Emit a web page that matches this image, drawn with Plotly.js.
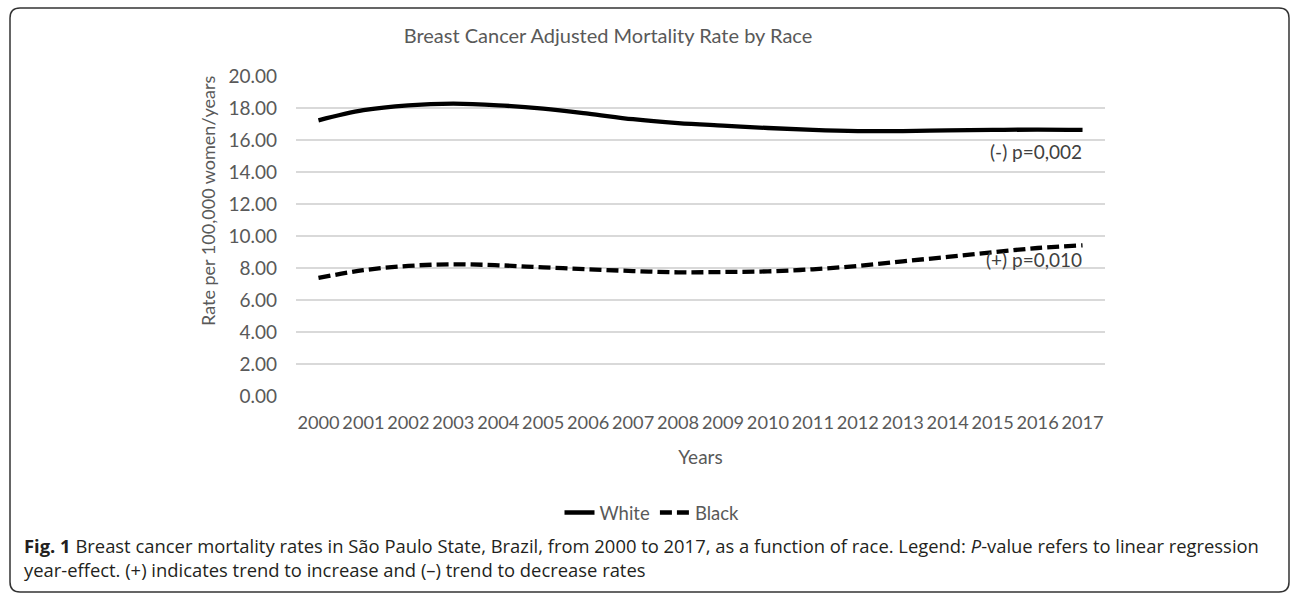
<!DOCTYPE html>
<html>
<head>
<meta charset="utf-8">
<script src="https://cdn.plot.ly/plotly-3.0.1.min.js"></script>
<style>html,body{margin:0;padding:0;background:#fff;}#chart{width:1292px;height:595px;}</style>
</head>
<body>
<div id="chart"></div>
<script>
const years = ["2000","2001","2002","2003","2004","2005","2006","2007","2008","2009","2010","2011","2012","2013","2014","2015","2016","2017"];
const white = [17.23,17.86,18.17,18.27,18.17,17.96,17.65,17.30,17.06,16.90,16.75,16.63,16.56,16.56,16.60,16.63,16.65,16.63];
const black = [7.38,7.86,8.13,8.23,8.17,8.04,7.92,7.81,7.73,7.75,7.79,7.92,8.13,8.42,8.69,8.98,9.25,9.42];
const yTicks = [0,2,4,6,8,10,12,14,16,18,20];
const seriesNames = ["White","Black"];
const pLabels = ["(-) p=0,002","(+) p=0,010"];
const titleText = "Breast Cancer Adjusted Mortality Rate by Race";
const xTitle = "Years";
const yTitle = "Rate per 100,000 women/years";
const caption1 = "<b>Fig. 1</b> Breast cancer mortality rates in São Paulo State, Brazil, from 2000 to 2017, as a function of race. Legend: <i>P</i>-value refers to linear regression";
const caption2 = "year-effect. (+) indicates trend to increase and (–) trend to decrease rates";

const W = 1292, H = 595;
const L = 296, R = 1105, T = 76, B = 396;
const px = x => (x - L) / (R - L);
const py = y => (B - y) / (B - T);

// rounded border path (pixel geometry converted to paper units)
function roundRect(x0, y0, x1, y1, r) {
  const P = (x, y) => px(x).toFixed(5) + "," + py(y).toFixed(5);
  return "M" + P(x0 + r, y0) + " L" + P(x1 - r, y0) + " Q" + P(x1, y0) + " " + P(x1, y0 + r) +
    " L" + P(x1, y1 - r) + " Q" + P(x1, y1) + " " + P(x1 - r, y1) +
    " L" + P(x0 + r, y1) + " Q" + P(x0, y1) + " " + P(x0, y1 - r) +
    " L" + P(x0, y0 + r) + " Q" + P(x0, y0) + " " + P(x0 + r, y0) + " Z";
}

const font = "Lato, 'Open Sans', sans-serif";
const gray = "#595959";

const traces = [
  {x: years, y: white, name: seriesNames[0], type: "scatter", mode: "lines",
   line: {color: "#000", width: 4.3, shape: "spline", smoothing: 1}},
  {x: years, y: black, name: seriesNames[1], type: "scatter", mode: "lines",
   line: {color: "#000", width: 4.3, shape: "spline", smoothing: 1, dash: "12px,5px"}}
];

const layout = {
  width: W, height: H,
  margin: {l: L, r: W - R, t: T, b: H - B, pad: 0},
  paper_bgcolor: "#fff", plot_bgcolor: "#fff",
  font: {family: font, color: gray, size: 19},
  showlegend: true,
  title: {text: titleText, x: 608 / W, xanchor: "center", xref: "container",
          y: 1 - 36 / H, yanchor: "middle", yref: "container",
          font: {family: font, size: 20, color: gray}},
  xaxis: {type: "category", range: [-0.5, years.length - 0.5],
          showgrid: false, zeroline: false, showline: false,
          ticks: "", tickangle: 0, tickfont: {family: font, size: 18.2, color: gray},
          ticklabelstandoff: 14,
          title: {text: xTitle, standoff: 18, font: {family: font, size: 19, color: gray}}},
  yaxis: {range: [0, 20], tickvals: yTicks, tickformat: ".2f",
          showgrid: true, gridcolor: "#d9d9d9", gridwidth: 1.3,
          zeroline: false, showline: false, ticks: "",
          ticklabelstandoff: 18,
          tickfont: {family: font, size: 19, color: gray}},
  legend: {orientation: "h", x: px(652), xanchor: "center", y: py(513), yanchor: "middle",
           font: {family: font, size: 18.5, color: gray}, bgcolor: "rgba(0,0,0,0)",
           itemwidth: 30, tracegroupgap: 0},
  annotations: [
    {text: yTitle, xref: "paper", yref: "paper", x: px(208), y: py(201),
     xanchor: "center", yanchor: "middle", textangle: -90, showarrow: false,
     font: {family: font, size: 18, color: gray}},
    {text: pLabels[0], xref: "paper", yref: "paper", x: px(1084), y: py(151),
     xanchor: "right", yanchor: "middle", showarrow: false,
     font: {family: font, size: 19, color: "#404040"}},
    {text: pLabels[1], xref: "paper", yref: "paper", x: px(1084), y: py(259),
     xanchor: "right", yanchor: "middle", showarrow: false,
     font: {family: font, size: 19, color: "#404040"}},
    {text: caption1 + "<br>" + caption2, xref: "paper", yref: "paper", x: px(22), y: py(557.5),
     xanchor: "left", yanchor: "middle", showarrow: false, align: "left",
     font: {family: "'Open Sans', sans-serif", size: 18.4, color: "#231f20"}}
  ],
  shapes: [
    {type: "path", xref: "paper", yref: "paper", path: roundRect(10, 8, 1289, 592, 10),
     line: {color: "#333", width: 1.5}, fillcolor: "rgba(0,0,0,0)", layer: "below"}
  ]
};

Plotly.newPlot("chart", traces, layout, {displayModeBar: false, staticPlot: true});
</script>
</body>
</html>
